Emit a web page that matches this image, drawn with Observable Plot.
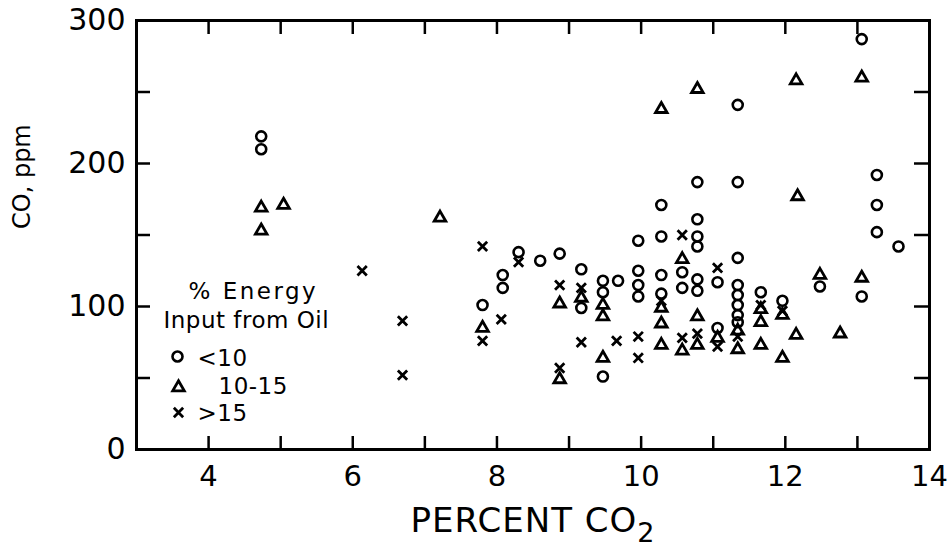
<!DOCTYPE html>
<html><head><meta charset="utf-8">
<script src="https://cdn.jsdelivr.net/npm/d3@7"></script>
<script src="https://cdn.jsdelivr.net/npm/@observablehq/plot@0.6"></script>
<style>html,body{margin:0;padding:0;background:#fff;}</style>
</head><body><div id="chart"></div>
<script>
// Series: % energy input from oil
const groups = ["<10", "10-15", ">15"];
const lowOilX = [4.73, 4.73, 7.80, 8.08, 8.08, 8.30, 8.60, 8.87, 9.17, 9.17, 9.47, 9.47, 9.47, 9.68, 9.96, 9.96, 9.96, 9.96, 10.28, 10.28, 10.28, 10.28, 10.57, 10.57, 10.78, 10.78, 10.78, 10.78, 10.78, 10.78, 11.06, 11.06, 11.34, 11.34, 11.34, 11.34, 11.34, 11.34, 11.34, 11.34, 11.66, 11.96, 12.48, 13.06, 13.06, 13.27, 13.27, 13.27, 13.57];
const lowOilY = [219, 210, 101, 122, 113, 138, 132, 137, 126, 99, 118, 110, 51, 118, 146, 125, 115, 107, 171, 149, 122, 109, 124, 113, 187, 161, 149, 142, 119, 111, 117, 85, 241, 187, 134, 115, 108, 101, 94, 89, 110, 104, 114, 287, 107, 192, 171, 152, 142];
const midOilX = [4.73, 4.73, 5.04, 7.21, 7.80, 8.87, 8.87, 9.17, 9.47, 9.47, 9.47, 10.28, 10.28, 10.28, 10.28, 10.57, 10.57, 10.78, 10.78, 10.78, 11.06, 11.34, 11.34, 11.66, 11.66, 11.66, 11.96, 11.96, 12.15, 12.17, 12.15, 12.48, 12.76, 13.06, 13.06];
const midOilY = [169, 153, 171, 162, 85, 102, 49, 106, 101, 93, 64, 238, 99, 88, 73, 133, 69, 252, 93, 73, 78, 83, 70, 98, 89, 73, 94, 64, 258, 177, 80, 122, 81, 260, 120];
const highOilX = [6.13, 6.69, 6.69, 7.80, 7.80, 8.06, 8.30, 8.87, 8.87, 9.17, 9.17, 9.66, 9.96, 9.96, 10.28, 10.57, 10.57, 10.78, 11.06, 11.06, 11.34, 11.66, 11.96];
const highOilY = [125, 90, 52, 142, 76, 91, 131, 115, 57, 113, 75, 76, 79, 64, 104, 150, 78, 81, 127, 72, 79, 101, 97];

const xTickLabels = [4, 6, 8, 10, 12, 14];
const yTickLabels = [0, 100, 200, 300];
const xMinorTicks = [4, 5, 6, 7, 8, 9, 10, 11, 12, 13];
const yMinorTicks = [50, 100, 150, 200, 250];

const legendTitle = ["% Energy", "Input from Oil"];
const legendLabels = ["<10", "10-15", ">15"];
const xAxisLabel = "PERCENT CO₂";
const yAxisLabel = "CO, ppm";

const points = [];
lowOilX.forEach((x, i) => points.push({x, y: lowOilY[i], g: groups[0]}));
midOilX.forEach((x, i) => points.push({x, y: midOilY[i], g: groups[1]}));
highOilX.forEach((x, i) => points.push({x, y: highOilY[i], g: groups[2]}));

const W = 948, H = 546, ML = 136, MR = 19, MT = 20, MB = 97;
const PW = W - ML - MR, PH = H - MT - MB;
const symRange = ["circle", "triangle", "times"];
const symStyle = {
  "<10": {r: 5, strokeWidth: 2.6},
  "10-15": {r: 4.3, strokeWidth: 2.8},
  ">15": {r: 4.3, strokeWidth: 2.8}
};
const font = "DejaVu Sans";

const legendSyms = [
  {g: groups[0], dx: 41, dy: 336},
  {g: groups[1], dx: 42, dy: 367},
  {g: groups[2], dx: 42, dy: 392}
];
const legendTexts = [
  {t: legendTitle[0], dx: 52, dy: 278, ls: 2.5},
  {t: legendTitle[1], dx: 27, dy: 307, ls: 0.5},
  {t: legendLabels[0], dx: 61, dy: 345, ls: 0.5},
  {t: legendLabels[1], dx: 82, dy: 373, ls: 0.5},
  {t: legendLabels[2], dx: 61, dy: 400, ls: 0.5}
];

const marks = [
  Plot.frame({stroke: "black", strokeWidth: 3}),
  Plot.tickX(xMinorTicks, {x: d => d, insetTop: PH - 13, stroke: "black", strokeWidth: 2.5}),
  Plot.tickX(xMinorTicks, {x: d => d, insetBottom: PH - 14, stroke: "black", strokeWidth: 2.5}),
  Plot.tickY(yMinorTicks, {y: d => d, insetRight: PW - 14, stroke: "black", strokeWidth: 2.5}),
  Plot.tickY(yMinorTicks, {y: d => d, insetLeft: PW - 15, stroke: "black", strokeWidth: 2.5}),
  Plot.axisX({ticks: xTickLabels, tickSize: 0, tickPadding: 16, fontSize: 29, label: null}),
  Plot.axisY({ticks: yTickLabels, tickSize: 0, tickPadding: 11, fontSize: 30, label: null}),
  Plot.text([xAxisLabel], {frameAnchor: "bottom", lineAnchor: "bottom", dy: 82, fontSize: 34, fill: "black", className: "xlab"}),
  Plot.text([yAxisLabel], {frameAnchor: "left", rotate: -90, dx: -114, dy: -6, fontSize: 24, fill: "black"})
];
groups.forEach(g => {
  marks.push(Plot.dot(points.filter(d => d.g === g), {x: "x", y: "y", symbol: "g", r: symStyle[g].r, stroke: "black", strokeWidth: symStyle[g].strokeWidth, fill: "none"}));
});
legendSyms.forEach(s => marks.push(Plot.dot([s], {frameAnchor: "top-left", dx: s.dx, dy: s.dy, symbol: "g", r: symStyle[s.g].r, stroke: "black", strokeWidth: symStyle[s.g].strokeWidth, fill: "none"})));
legendTexts.forEach(s => marks.push(Plot.text([s.t], {frameAnchor: "top-left", dx: s.dx, dy: s.dy, lineAnchor: "bottom", textAnchor: "start", fontSize: 23, fill: "black", className: "ls" + String(s.ls).replace(".", "_")})));

const chart = Plot.plot({
  width: W, height: H,
  marginLeft: ML, marginRight: MR, marginTop: MT, marginBottom: MB,
  x: {domain: [3, 14]},
  y: {domain: [0, 300]},
  symbol: {domain: groups, range: symRange},
  style: {fontFamily: font, color: "black", background: "white"},
  marks
});
// letter spacing for legend lines
d3.select(chart).selectAll("g.ls2_5 text").attr("letter-spacing", 2.5);
d3.select(chart).selectAll("g.ls0_5 text").attr("letter-spacing", 0.5);
// subscript 2 in x label
d3.select(chart).selectAll("g.xlab text").each(function() {
  const t = d3.select(this);
  const s = this.textContent;
  if (s.endsWith("₂")) {
    t.text(s.slice(0, -1)).attr("letter-spacing", 1);
    t.append("tspan").attr("dy", 10).attr("font-size", 27).text("2");
  }
});
document.getElementById("chart").appendChild(chart);
</script>
</body></html>
